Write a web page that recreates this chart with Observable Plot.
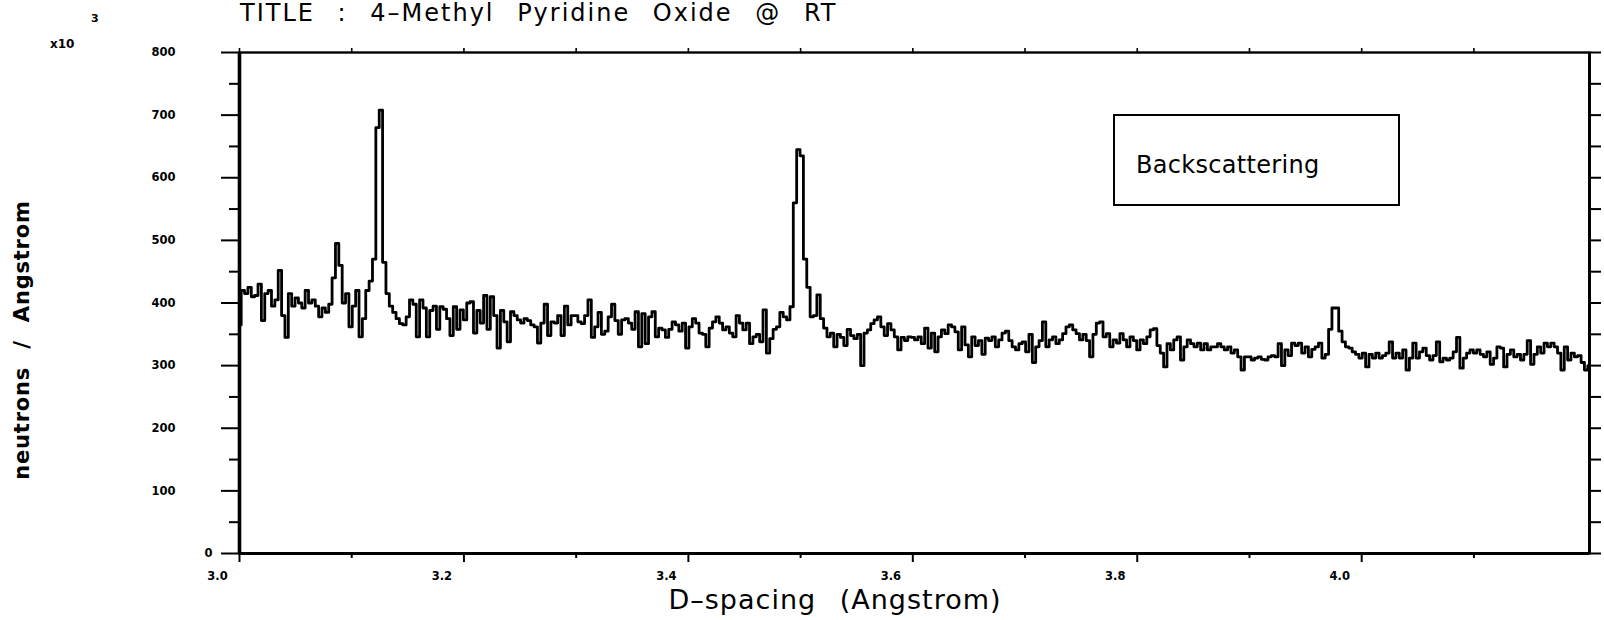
<!DOCTYPE html>
<html>
<head>
<meta charset="utf-8">
<script src="https://cdn.jsdelivr.net/npm/d3@7"></script>
<script src="https://cdn.jsdelivr.net/npm/@observablehq/plot@0.6"></script>
<style>
html, body { margin: 0; padding: 0; background: #fff; }
#chart { position: relative; width: 1604px; height: 620px; overflow: hidden; background: #fff; }
#chart svg { position: absolute; left: 0; top: 0; }
.ann { position: absolute; white-space: pre; color: #000; font-family: "DejaVu Sans", sans-serif; }
</style>
</head>
<body>
<div id="chart"></div>
<script>
// ---- texts ----
const titleText = "TITLE : 4\u2013Methyl Pyridine Oxide @ RT";
const xLabelText = "D\u2013spacing (Angstrom)";
const yLabelText = "neutrons / Angstrom";
const legendText = "Backscattering";
const yUnitText = "x10";
const yUnitExp = "3";

// ---- sampling grid (D-spacing, Angstrom) ----
const dStart = 3.0;
const dStep = 0.003;

// ---- counts (x10^3 neutrons / Angstrom) ----
const counts3000 = [
  365,420,415,425,410,412,430,372,415,420,
  395,405,452,380,345,415,395,408,400,392,
  420,400,405,395,378,392,385,398,440,495,
  460,400,415,362,395,420,346,375,420,435,
  470,680,708,465,415,395,385,375,367,365,
  378,405,398,346,405,392,346,388,395,358,
  394,390,375,348,394,358,389,373,400,402,
  352,388,368,412,358,410,380,328,388,370,
  338,386,380,373,368,375,372,365,362,336,
  368,398,348,370,368,380,348,395,365,380
];
const counts3300 = [
  380,370,367,380,405,345,362,385,350,355,
  378,398,372,350,373,375,368,358,386,330,
  383,335,378,386,346,360,357,345,358,370,
  365,355,368,328,362,375,368,352,350,330,
  360,370,378,368,357,362,352,346,380,368,
  357,368,335,346,350,338,389,320,343,358,
  362,385,378,373,394,560,645,635,470,425,
  378,380,413,375,360,346,352,330,350,345,
  332,358,348,343,350,300,352,357,367,373,
  378,362,348,367,357,346,325,345,340,346
];
const counts3600 = [
  345,341,346,335,360,328,352,322,346,357,
  351,365,362,354,325,362,333,314,346,332,
  340,318,344,340,346,330,341,352,355,340,
  330,325,335,338,322,350,305,330,340,370,
  330,341,346,335,341,351,362,365,357,351,
  341,350,340,314,350,368,370,346,351,330,
  341,336,351,341,330,346,340,325,341,335,
  346,357,359,332,320,298,335,325,341,346,
  309,330,341,335,330,336,325,335,325,330,
  330,335,330,325,330,320,325,314,293,314
];
const counts3900 = [
  314,309,312,314,310,309,314,316,314,335,
  300,325,316,336,332,336,320,330,314,326,
  330,336,312,318,358,392,392,355,338,330,
  328,322,318,312,320,298,318,312,320,312,
  316,320,338,312,320,312,325,293,312,336,
  312,322,328,316,309,316,338,306,312,309,
  312,322,345,296,312,320,325,320,325,318,
  314,322,302,312,330,328,298,318,325,314,
  318,309,318,340,302,318,330,320,336,330,
  336,330,320,293,330,309,320,314,316,305,
  293,300
];

// ---- axis ticks ----
const xDomain = [3.0, 4.203];
const yDomain = [0, 800];
const xMajor = [3.0, 3.2, 3.4, 3.6, 3.8, 4.0];
const xMinor = [3.1, 3.3, 3.5, 3.7, 3.9, 4.1];
const xTop = [3.0, 3.1, 3.2, 3.3, 3.4, 3.5, 3.6, 3.7, 3.8, 3.9, 4.0, 4.1];
const yMajor = [0, 100, 200, 300, 400, 500, 600, 700, 800];
const yMinor = [50, 150, 250, 350, 450, 550, 650, 750];
const yAll = [0, 50, 100, 150, 200, 250, 300, 350, 400, 450, 500, 550, 600, 650, 700, 750, 800];

const counts = [...counts3000, ...counts3300, ...counts3600, ...counts3900];
const data = counts.map((v, i) => ({ d: +(dStart + i * dStep).toFixed(3), v }));

const tickFont = { fontFamily: "DejaVu Sans", fontWeight: "bold", fontSize: 11.5 };
const blank = () => "";

const chart = Plot.plot({
  width: 1604,
  height: 620,
  marginLeft: 239,
  marginRight: 15,
  marginTop: 52,
  marginBottom: 67,
  x: { domain: xDomain },
  y: { domain: yDomain },
  style: { background: "#fff", color: "#000", fontFamily: "DejaVu Sans" },
  marks: [
    // spectrum
    Plot.line(data, { x: "d", y: "v", curve: "step", stroke: "#000", strokeWidth: 2.8, clip: true }),
    // frame
    Plot.frame({ stroke: "#000", strokeWidth: 2.4 }),
    Plot.ruleX([xDomain[0]], { stroke: "#000", strokeWidth: 3.6 }),
    Plot.ruleX([xDomain[1]], { stroke: "#000", strokeWidth: 3 }),
    Plot.ruleY([yDomain[0]], { stroke: "#000", strokeWidth: 3.2 }),
    // bottom ticks
    Plot.axisX(xMajor, { anchor: "bottom", tickSize: 9, tickFormat: blank, label: null, strokeWidth: 2 }),
    Plot.axisX(xMinor, { anchor: "bottom", tickSize: 5, tickFormat: blank, label: null, strokeWidth: 2 }),
    // top ticks
    Plot.axisX(xTop, { anchor: "top", tickSize: 5, tickFormat: blank, label: null, strokeWidth: 1.6 }),
    // left ticks
    Plot.axisY(yMajor, { anchor: "left", tickSize: 18, tickFormat: blank, label: null, strokeWidth: 2 }),
    Plot.axisY(yMinor, { anchor: "left", tickSize: 10, tickFormat: blank, label: null, strokeWidth: 2 }),
    // right ticks
    Plot.axisY(yAll, { anchor: "right", tickSize: 11, tickFormat: blank, label: null, strokeWidth: 2 }),
    // x tick labels
    Plot.text(xMajor, {
      x: d => d, frameAnchor: "bottom", dy: 26, dx: -22,
      text: d => d.toFixed(1), ...tickFont
    }),
    // y tick labels
    Plot.text(yMajor.filter(v => v > 0), {
      y: d => d, frameAnchor: "left", dx: -64, textAnchor: "end",
      text: d => String(d), ...tickFont
    }),
    Plot.text(yMajor.filter(v => v === 0), {
      y: d => d, frameAnchor: "left", dx: -27, textAnchor: "end",
      text: d => String(d), ...tickFont
    })
  ]
});

const root = document.getElementById("chart");
root.appendChild(chart);

function ann(text, css) {
  const el = document.createElement("div");
  el.className = "ann";
  el.textContent = text;
  Object.assign(el.style, css);
  root.appendChild(el);
  return el;
}

// title
ann(titleText, { left: "240px", top: "1px", fontSize: "24px", lineHeight: "24px",
  letterSpacing: "2px", wordSpacing: "13px" });

// unit multiplier
ann(yUnitText, { left: "50px", top: "38px", fontSize: "12px", lineHeight: "12px", fontWeight: "bold" });
ann(yUnitExp, { left: "91px", top: "13px", fontSize: "11px", lineHeight: "11px", fontWeight: "bold" });

// x axis label
ann(xLabelText, { left: "835px", top: "586px", fontSize: "27px", lineHeight: "27px",
  letterSpacing: "1px", wordSpacing: "14px", transform: "translateX(-50%)" });

// y axis label
ann(yLabelText, { left: "22px", top: "340px", fontSize: "21px", lineHeight: "21px", fontWeight: "bold",
  letterSpacing: "0.8px", wordSpacing: "10px", transform: "translate(-50%,-50%) rotate(-90deg)" });

// legend box
const box = document.createElement("div");
Object.assign(box.style, { position: "absolute", left: "1113px", top: "114px", width: "287px", height: "92px",
  border: "2px solid #000", boxSizing: "border-box" });
root.appendChild(box);
ann(legendText, { left: "1136px", top: "153px", fontSize: "24px", lineHeight: "24px", letterSpacing: "0.3px" });
</script>
</body>
</html>
